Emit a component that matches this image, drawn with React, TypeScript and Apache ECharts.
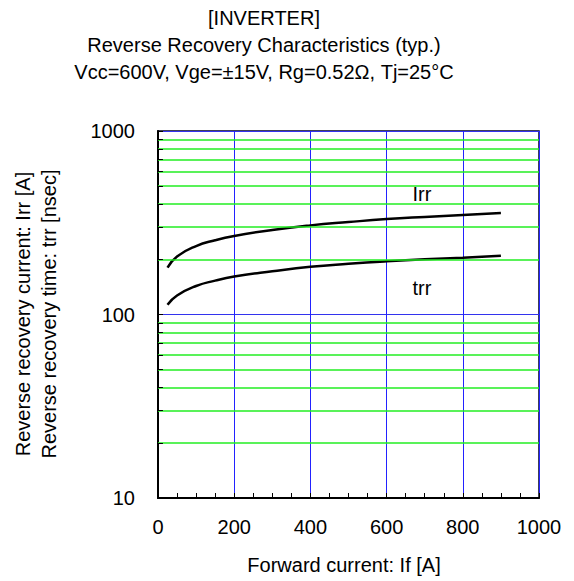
import React, { useEffect, useRef } from "react";
import * as echarts from "echarts";

const IF_A = [25, 50, 100, 150, 200, 300, 400, 500, 600, 700, 800, 900];
const IRR = [180, 207, 236, 254, 268, 289, 306, 319, 331, 340, 348, 357];
const TRR = [113, 127, 143, 153, 161, 172, 182, 189, 195, 200, 204, 209];
const MINOR_Y = [20, 30, 40, 50, 60, 70, 80, 90, 200, 300, 400, 500, 600, 700, 800, 900];
const TITLES = [
  "[INVERTER]",
  "Reverse Recovery Characteristics (typ.)",
  "Vcc=600V, Vge=±15V, Rg=0.52Ω, Tj=25°C",
];
const X_NAME = "Forward current: If [A]";
const Y_NAMES = ["Reverse recovery current: Irr [A]", "Reverse recovery time: trr [nsec]"];
const FONT = "'Liberation Sans', Arial, sans-serif";

export default function App() {
  const ref = useRef<HTMLDivElement>(null);
  useEffect(() => {
    const chart = echarts.init(ref.current!, null, { renderer: "svg" });
    const txt = (text: string, x: number, y: number, rot = 0) => ({
      type: "text",
      x,
      y,
      rotation: rot,
      style: {
        text,
        fill: "#000",
        font: `20px ${FONT}`,
        textAlign: "center",
        textVerticalAlign: "middle",
      },
    });
    chart.setOption({
      animation: false,
      backgroundColor: "#fff",
      textStyle: { fontFamily: FONT },
      grid: {
        left: 158,
        right: 35,
        top: 131,
        bottom: 83,
        show: true,
        borderColor: "#000022",
        borderWidth: 1.5,
        backgroundColor: "transparent",
      },
      graphic: [
        txt(TITLES[0], 264, 18),
        txt(TITLES[1], 264, 45),
        txt(TITLES[2], 264, 72),
        txt(X_NAME, 344, 565),
        txt(Y_NAMES[0], 23, 314, Math.PI / 2),
        txt(Y_NAMES[1], 49, 314, Math.PI / 2),
        txt("Irr", 422, 194),
        txt("trr", 422, 288),
      ],
      xAxis: {
        type: "value",
        min: 0,
        max: 1000,
        interval: 200,
        axisLine: { lineStyle: { color: "#000", width: 2 } },
        axisTick: { inside: true, length: 5, lineStyle: { color: "#000" } },
        minorTick: { show: true, splitNumber: 4, length: 5, lineStyle: { color: "#000" } },
        axisLabel: {
          color: "#000",
          fontSize: 20,
          margin: 19,
          fontFamily: FONT,
          formatter: (v: number) => String(v),
        },
        splitLine: { show: true, lineStyle: { color: "#2222ff", width: 1 } },
      },
      yAxis: {
        type: "log",
        logBase: 10,
        min: 10,
        max: 1000,
        axisLine: { show: true, lineStyle: { color: "#000", width: 2 } },
        axisTick: { show: true, inside: true, length: 5, lineStyle: { color: "#000" } },
        axisLabel: {
          color: "#000",
          fontSize: 20,
          margin: 23,
          fontFamily: FONT,
          formatter: (v: number) => String(Math.round(v)),
        },
        splitLine: { show: true, lineStyle: { color: "#3333ee", width: 1 } },
      },
      series: [
        {
          type: "line",
          z: -1,
          data: [],
          markLine: {
            silent: true,
            symbol: ["none", "none"],
            label: { show: false },
            lineStyle: { color: "#22ee22", width: 1.5, type: "solid" },
            data: MINOR_Y.map((v) => ({ yAxis: v })),
          },
        },
        {
          type: "line",
          data: [],
          markLine: {
            silent: true,
            symbol: ["none", "none"],
            label: { show: false },
            lineStyle: { color: "#000", width: 1, type: "solid" },
            data: MINOR_Y.map((v) => [{ coord: [0, v] }, { coord: [13, v] }]),
          },
        },
        {
          type: "line",
          smooth: true,
          showSymbol: false,
          lineStyle: { color: "#000", width: 2.5 },
          data: IF_A.map((x, i) => [x, IRR[i]]),
        },
        {
          type: "line",
          smooth: true,
          showSymbol: false,
          lineStyle: { color: "#000", width: 2.5 },
          data: IF_A.map((x, i) => [x, TRR[i]]),
        },
      ],
    });
    return () => chart.dispose();
  }, []);
  return (
    <div
      ref={ref}
      style={{ position: "fixed", left: 0, top: 0, width: 574, height: 581, background: "#fff" }}
    />
  );
}
